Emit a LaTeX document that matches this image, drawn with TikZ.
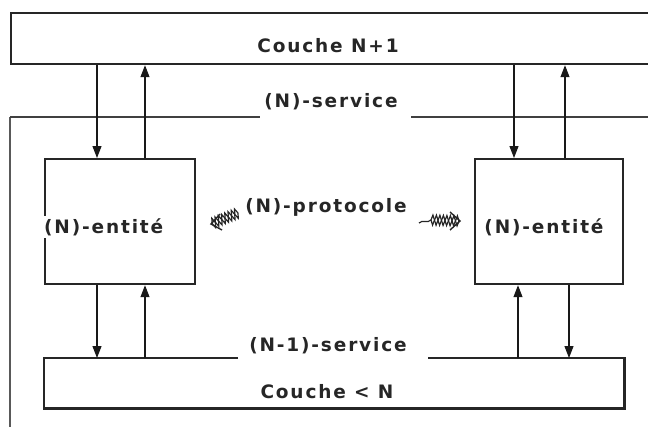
\documentclass[tikz,border=0pt]{standalone}
\usepackage{fontspec}
\newfontfamily\lab[LetterSpace=10]{DejaVu Sans}
\usetikzlibrary{arrows.meta,decorations.pathmorphing,calc}
\begin{document}
\begin{tikzpicture}[x=1pt,y=-1pt,
  boxline/.style={line width=2.2pt, draw=black!85},
  box/.style={draw, boxline, inner sep=0pt},
  lbl/.style={font=\lab\bfseries\fontsize{18.5}{21}\selectfont, inner sep=1pt, text=black!85},
  arr/.style={line width=1.1pt, draw=black!90, -{Triangle[length=12pt,width=9pt]}},
  frametop/.style={line width=2.4pt, draw=black!75},
  frameleft/.style={line width=2.6pt, draw=black!65},
  hatch/.style={line width=1.2pt, draw=black!85, decorate, decoration={zigzag, amplitude=5pt, segment length=7pt}},
  hatchm/.style={hatch, decoration={mirror}},
  barb/.style={line width=1.4pt, draw=black!85}]
\useasboundingbox (0,0) rectangle (648,426);
\clip (0,0) rectangle (648,426);

% outer frame of layer N
\coordinate (fbl) at (10,440);
\coordinate (ftl) at (10,117);
\coordinate (fg1) at (260,117);
\coordinate (fg2) at (411,117);
\coordinate (ftr) at (660,117);
\draw[frameleft] (fbl) -- (ftl);
\draw[frametop] (ftl) -- (fg1);
\draw[frametop] (fg2) -- (ftr);

% boxes
\node[box, minimum width=660pt, minimum height=51pt, anchor=north west] (top) at (10,12) {};
\node[box, minimum width=150pt, minimum height=125pt, anchor=north west] (e1) at (44,158) {};
\node[box, minimum width=148pt, minimum height=125pt, anchor=north west] (e2) at (474,158) {};
\node[inner sep=0pt, minimum width=580pt, minimum height=50pt, anchor=north west] (bot) at (44,358) {};
\coordinate (g1) at (238,358);
\coordinate (g2) at (428,358);
\draw[boxline] (g1) -- (bot.north west) -- (bot.south west) -- (bot.south east) -- (bot.north east) -- (g2);

% labels
\node[lbl] (tN1) at (328,46) {Couche N+1};
\node[lbl] (srv) at (331,102) {(N)-service};
\node[lbl, fill=white, anchor=west, inner sep=2pt] (t1) at (42,227) {(N)-entité};
\node[lbl] (t2) at (544,227) {(N)-entité};
\node[lbl] (prot) at (326,207) {(N)-protocole};
\node[lbl] (s1) at (328,346) {(N-1)-service};
\node[lbl] (cN) at (327,392) {Couche < N};

% arrow x positions
\coordinate (x1) at (97,0);
\coordinate (x2) at (145,0);
\coordinate (x3) at (514,0);
\coordinate (x4) at (565,0);
\coordinate (x5) at (518,0);
\coordinate (x6) at (569,0);

\draw[arr] (top.south -| x1) -- (e1.north -| x1);
\draw[arr] (e1.north -| x2) -- (top.south -| x2);
\draw[arr] (top.south -| x3) -- (e2.north -| x3);
\draw[arr] (e2.north -| x4) -- (top.south -| x4);
\draw[arr] (e1.south -| x1) -- (bot.north -| x1);
\draw[arr] (bot.north -| x2) -- (e1.south -| x2);
\draw[arr] (bot.north -| x5) -- (e2.south -| x5);
\draw[arr] (e2.south -| x6) -- (bot.north -| x6);

% hatched protocol arrows
\coordinate (p1s) at (238,213);
\coordinate (p1e) at (211,224);
\draw[hatch] (p1s) -- (p1e);
\draw[hatchm] (p1s) -- (p1e);
\draw[barb] ($(p1e)+(9,-10)$) -- (p1e) -- ($(p1e)+(11,6)$);
\coordinate (p2t) at (419,223);
\coordinate (p2s) at (431,220);
\coordinate (p2e) at (460,221);
\draw[line width=1.2pt, draw=black!85] (p2t) .. controls (423,219) and (427,224) .. (p2s);
\draw[hatch] (p2s) -- (p2e);
\draw[hatchm] (p2s) -- (p2e);
\draw[barb] ($(p2e)+(-10,-9)$) -- (p2e) -- ($(p2e)+(-10,9)$);
\end{tikzpicture}
\end{document}
